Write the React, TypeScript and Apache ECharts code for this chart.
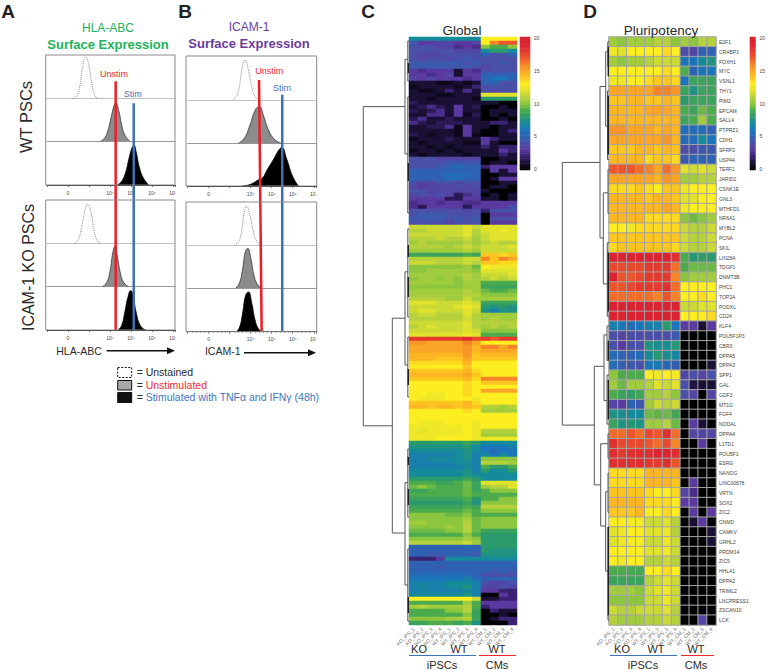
import React, { useEffect, useRef } from "react";
import * as echarts from "echarts";

const FONT = "Liberation Sans";
const sampleLabels = ["KO_iPS_1","KO_iPS_2","KO_iPS_3","KO_iPS_4","WT_iPS_1","WT_iPS_2","WT_iPS_3","WT_iPS_4","WT_CM_1","WT_CM_2","WT_CM_3","WT_CM_4"];
const colorScale = ["#000000","#1a1035","#3a2272","#5a3aa0","#4a50a8","#2f62b2","#1a75bb","#158a9a","#2a9a6c","#4cab4c","#8cc63f","#b5d23c","#e0e22c","#fcee21","#fdc51f","#faa526","#f58429","#ec552b","#e43a2e","#db2332","#d8202f"];
const colorbarLevels = Array.from({ length: 81 }, (_, i) => i / 4);

const pluripotencyGenes = ["E2F1","CRABP1","FOXH1","MYC","VSNL1","THY1","PIM2","EPCAM","SALL4","PTPRZ1","CDH1","SFRP2","USP44","TERF1","JARID2","CSNK1E","GNL3","MTHFD1","NR6A1","MYBL2","PCNA","SKIL","LIN28A","TDGF1","DNMT3B","PHC1","TOP2A","PODXL","CD24","KLF4","POU5F1P3","CBR3","DPPA5","DPPA3","SPP1","GAL","GDF3","MT1G","FGF4","NODAL","DPPA4","L1TD1","POU5F1","ESRG","NANOG","LINC00678","VRTN","SOX2","ZIC2","CNMD","CAMKV","GRHL2","PRDM14","ZIC5","HHLA1","DPPA2","TRIML2","LNCPRESS1","ZSCAN10","LCK"];
const pluripotencyValues = [
[10.5,10,10.5,10.5,10.5,11,11,10,10.5,10,11,11],
[12.5,12,13,13,13,13,13.5,13,4,3.5,5,5],
[10.5,10,10.5,10.5,11,11.5,11.5,11.5,6,6,7,7.5],
[13,13,13,13,13,13,13.5,13,9,5,6,6],
[12.5,12.5,13,13,13.5,14,14,13.5,6,8.5,8.5,8.5],
[15,15,15,15,15,16,16,15.5,8.5,7.5,8.5,8.5],
[14,14,14.5,14.5,14,14,14.5,14,8,8.5,8.5,8.5],
[14.5,14.5,14.5,14.5,15,15,15,14.5,9,8.5,9.5,9],
[14.5,14.5,14.5,14.5,14.5,14.5,14.5,14.5,8.5,9,10.5,9],
[15.5,15.5,15,15,15,14.5,15,14.5,5.5,5.5,5.5,5],
[15,15,15,15,15,15,15.5,14.5,5.5,5.5,7,6],
[14,14,14,14.5,14.5,14,14.5,14,4,4,4.5,4.5],
[14.5,14.5,14.5,14.5,13.5,14,14,13.5,4.5,5,5,5],
[17,17,17,16.5,16,15,16.5,15.5,12,11.5,12,11.5],
[15,15,15,15,15,14.5,15.5,15,10.5,10.5,11,11],
[13.5,13.5,13.5,14,13.5,13,14,14,12.5,13,13,13],
[14.5,14.5,14.5,14.5,14,14.5,14.5,14,12,12,13,13],
[14.5,14.5,14.5,14.5,14.5,14.5,15,14.5,12.5,13,13,13],
[14.5,14.5,14.5,14.5,13.5,13.5,13.5,13.5,10,9.5,10,10.5],
[13,13,12.5,13.5,13.5,13.5,13.5,13.5,11.5,11,11,11.5],
[14,14,14,14,14,14,14,14,11.5,11,11,11.5],
[13.5,14,14,14,14,14,14,13.5,11.5,11,11,11.5],
[19,19,19,19,19,19,19.5,18.5,9,7.8,8.2,8],
[17.5,17.5,17.5,17.5,18,18,18,16.5,9,9.5,9.5,9.5],
[19,17,17,17.5,18,18,18,16,10,10.5,10.5,10.5],
[17,17,17.5,18,18,18,18.5,16.5,13,13,13,13],
[16.5,16.5,16.5,16.5,16.5,16,17,16,13,13,13.5,13],
[19.5,19.5,19.5,19.5,19.5,19.5,19.5,19.5,11.5,11.5,12,12],
[19.5,19.5,19.5,19.5,19.5,19.5,19.5,19,13,13,13,13.5],
[6.5,6,5.5,6,6.5,6.5,8,6,3,3,1,3],
[4,3.5,3.8,3.8,4,4,4,4.5,0,0,0,0],
[4,3,4,4,7.5,7.2,7.2,7.8,0,0,0,0],
[5.5,5,5,5.5,7,7.8,7.2,6.8,0,0,0,0],
[5.5,4.8,4.5,4,6,6.2,5.2,4.8,0,0,0,1],
[10,9,9,9,13,12.5,13,12.8,3.5,4,3.5,4],
[10.5,9.5,10.5,10.5,11,12,11.5,12,4,1.2,1,1],
[9,8.5,8.2,8.7,10.5,10.5,11,10,4,3.5,0,3.5],
[3.5,3,5,4.5,10.5,11.5,11,11.5,0,0,0,0],
[7.5,7.2,7,7,9.5,9.3,9.5,8.7,0,0,0,0],
[8.5,7.5,7.8,7.5,10.5,10.5,11,9.5,0,3,1,0],
[16.5,16.5,17,16.5,17.5,17,18.5,16.5,0,3.5,3.5,3.5],
[18.5,17.5,17.5,17.5,17,16.5,17.5,16,0,0,3,0],
[18.5,18,18.5,18.5,18.5,19,19,18.5,0,0,0,0],
[18.5,18.5,18.5,18.5,18,18,18.5,17,0,0,0,0],
[13.5,13.5,13.5,13.5,14.5,14.5,14.5,14.5,0,0,0,0],
[13.5,13.5,13.5,13.5,14.5,14.5,14.5,14,0,3,0,0],
[14,14,14,14,13.5,13,13,13.5,3.5,2.5,0,0],
[14.5,14.5,14.5,14.5,13.5,13.5,13.5,13,3,3,0,0],
[14,14,14,14.5,13,13,13.5,13,0,3,0,3],
[13,13,12.8,12.8,11.5,11.5,12,11,0,1,3,0],
[12,12.5,13,13,12,12,12.5,11,0,0,0,1],
[12,12.5,12.8,12.8,11.5,11.5,12.5,11.5,0,0,0,1],
[13,13,13,13,12,12,12.5,11.5,0,0,0,0],
[13,12.5,13,13,11,11,11.5,11,0,0,0,0],
[9,9,8.8,8.8,13,13,13.5,13,0,0,0,0],
[8.5,8.5,8.5,8.5,11,11.5,12,11.5,0,0,0,0],
[10.5,10.5,10.5,10,11.5,12,12.5,11.5,0,0,0,0],
[10,10,10,10,11.5,11.5,12.5,11.5,0,0,0,0],
[11.5,11,11,11.5,11.5,11.5,12,11,0,0,0,0],
[11,10.5,10.5,10.5,11,11,11.5,11,0,0,3.5,0],
];

const globalLowRows = [
[7,7,7,7,7,7,7,7,13,13,13,13],[4.5,3,3,3.5,3.5,3,3,3.5,13,16,17,17],[4,4,4,3.5,3.5,2.5,3,2.5,10,9,9,10],[4,4,4,4,4,3.5,3.5,3.5,7,8,8,7],
[4,3.5,3.5,3.5,4,4,4,4,5,4,4,5],[4,3.5,4,4,3.5,4,4.5,4,4,4,4,4],[4.5,4.5,4.5,4.5,4.5,4.5,4,4.5,4,4,4.5,4],[4.5,4.5,4.5,4.5,4.5,4.5,4.5,4,3.5,4,4,4],
[3,2.5,3,3,3,1,3,2.5,4,4,4,4],[3,3,2.5,3,3.5,1,3,3,5,5,5,5],[3.5,3,3.5,3,3,3,2.5,3,5,6,6,5],
[1,1,1,0.5,0.5,1,0.5,1,5,5,4,4],[0.5,1,1,1,1,0.5,1,2,4,4,4,4],[1,0.5,0.5,1,2,1,2.5,1,4,3.5,4,4],[1,1,1,0.5,0.5,1,1,1,12,12,12,12],[1,1,0.5,1,1,1,1,0.5,8,8,8,8],
[1.5,1,1,1,1,1,1,1,1,1,0,0],[1,1.5,2.5,1.5,1,3,1,1.5,0,0,1,0],[1.5,1,1.5,2.5,1,3,1,1,0,1,1,1],[1,1,2.5,2.5,1,3,0.5,1.5,0,1,0,1],[1.5,2.5,1,1,1.5,1,1,1,0,0,1,0],
[2.5,1.5,1,1.5,1.5,1.5,1,1,1,2,2,1],[1,1,1.5,1.5,2.5,0.5,3,1,1,0,1,1],[1,1,1,1,1,0.5,3,1,0,0,1,2],[1.5,1,0.5,1,1,0.5,3,0.5,0,0,1,1],[0.5,1,1,1,1.5,1,1,1,3,2,1,1],
[1,0.5,1,1,1,1,0.5,0.5,3,1,0,0],[1,1,0.5,1,0.5,1,1,1,2,1,2,2],[0.5,1,1,0.5,1,0.5,1,1,1,1,3,2],[1,0.5,1,1,1,1,0.5,1,1,1,2,1],
[4,4,4,3.5,3.5,3.5,3.5,3.5,0,0,1,1],[4,4,4,4,4.5,4.5,4.5,4.5,0,1,1,0],[4,4,4,4.5,5,5.5,5,5,2,3,3,3],[5,5,5,5,5,5,5,5,0,3,1,3],[5,5,5,5,5.5,5.5,5.5,5,0,0,1,1],
[5,5,5,5,5.5,5.5,5,5,0,1,3,3],[4,3.5,3.5,4,4,3.5,4,4,0,0,1,1],[3.5,3,3.5,3.5,3.5,4,3.5,4,0,1,1,0],[4,4,3.5,3.5,3.5,3.5,3.5,3.5,1,0,0,0],[3.5,4,3.5,4,3.5,1.5,2.5,3.5,0,1,0,1],
[3,3,3,3,1.5,1.5,3,3,1,1,0,1],[2.5,3,3,2.5,3,3,2.5,2.5,3,3,3,3],[2.5,1.5,3,3,3,3,1.5,3,3,3,3,4],[4,4,4,4,4,4,3.5,4,2,4,4,4],[4,4.5,4.5,4.5,4,4,4,4,0,3,3,3],
[4.5,4.5,4.5,4.5,4,4.5,4,4.5,0,4,4,4],[4,4,4,4,3.5,4,4,4,0,3,3,3],
];
const globalGreenRows = [
[11.5,11.5,11.5,11.5,11.5,11.5,12,11.5,12,12,12,12],[11,11,11.5,11.5,11.5,11.5,12,11,12,12,12.5,12],[11.5,11.5,11.5,11.5,11.5,11.5,12,11,11.5,12,12,12],[11,11,11,11.5,11,11,11.5,10.5,11.5,12,12,12],
[10.5,11,10.5,10.5,10.5,10.5,11,10.5,11,11.5,11,11],[11,11,11,11,10.5,11,11.5,11,11.5,11.5,11.5,12],[10.5,10.5,10.5,10.5,10.5,10.5,11,10.5,11.5,11.5,11.5,11.5],[8.5,8.5,8.5,8.5,8.5,8.5,9,8.5,14,14,13.5,14],
[11,11,11,11,11,11,11.5,11.5,16,14,16,15],[11.5,11.5,11.5,11,11,11,11.5,11,14,14,13.5,13.5],[10,10,10,10,10,10,10.5,9.5,13,12.5,12.5,12.5],[10,10,10.5,10.5,10.5,10.5,10.5,10,12,12,12,12],
[10.5,10.5,10.5,10.5,10.5,10.5,11,10.5,11.5,11.5,11.5,12],[10,10.5,10.5,10,10.5,10,11,10.5,11,11.5,11,11.5],[10.5,10.5,10.5,10.5,10.5,10,10.5,10.5,9,9,9,9],[10,10,10,10,10,10,10.5,10.5,8.5,8.5,8.5,8.5],
[10.5,10.5,10.5,10.5,10.5,10.5,11,10.5,9.5,9,9,9.5],[10.5,10.5,10.5,10.5,10.5,10.5,11,11,10,10,10,10],[11,11,11,11,10.5,10.5,11.5,10.5,10.5,10.5,10.5,10.5],[12,12,12,11.5,11.5,11.5,12,11.5,8.5,8.5,8.5,8.5],
[11.5,11.5,11.5,11.5,11.5,12,12.5,12,8,7.5,8,7.5],[11.5,12,12,11.5,11.5,11.5,12,11.5,7.5,6.5,7.5,7.5],[11,11.5,11.5,11,11,11,12,11,10.5,10.5,10.5,10.5],[11,11,11,11,11,11,11.5,11,10.5,11,10.5,10.5],
[11.5,11.5,11.5,11.5,11.5,11.5,12,11,11,11,11,11],[11,11.5,12,11.5,11.5,11.5,12,11,10.5,11,10.5,11],[11.5,11.5,11.5,11.5,11.5,11.5,12,11.5,10,10,10,10],[12,12,12,12,12,12,12.5,12,9,9,9,9],
];
const globalHighRows = [
[18,18,18,18,18,18,18.5,17.5,18,17,18,18],[15.5,15.5,15,15,15,15,16,15,13,13,13,13],[15,15,15,15,15,15,15.5,14.5,16,16,15,16],[15,15,15,15,15,15,15.5,14.5,15,15,15,15],
[14.5,14.5,14.5,14.5,14.5,14.5,15.5,14,14.5,14.5,14.5,14.5],[14.5,14.5,14.5,14,14,14,15,14,14,14,14,14],[13.5,13.5,13.5,13.5,13.5,13.5,14.5,13,13,13,13,13],[13,13,13,13,13,13,14,13,13,13,13,13],
[14,14,14,14,14,14,14.5,13.5,13,13,13,13],[14.5,14.5,14.5,14.5,14.5,14.5,15,14,13,13,13,13],[14,14,14,14,14,14,14.5,13.5,16,16,16,16],[13,13,13,13,13,13,13.5,13,14,14,14,14],
[13,13,13,13,13,13,13.5,13,13,13,13,13],[13,13,13,13,13,13,13.5,13,15,15,15,15],[13,13,12.5,12.5,13,13,13.5,13,13,13,13,13],[13,12.5,12.5,12.5,13,13,13,12.5,13,13,13,13],
[14,14,14,14,14,14,14.5,13.5,13,13,13,13],[14.5,14.5,14,14.5,14.5,14,14.5,14,11,11,10.5,11],[13,13,13,13,13,13,13.5,13,10.5,10.5,10.5,10.5],[13,13,13,13,13,13,13,13,13,13,13,13],
[13,13,13,13,13,13,13,13,13,13,13,13],[13,12.5,12.5,12.5,13,13,13,12.5,13,13,13,13],[12.5,12.5,12.5,12.5,12.5,12.5,13,12.5,13,13,13,13],[12.5,12,12.5,12.5,12.5,12.5,13,12.5,11,11,11,11],
[12.5,12.5,12.5,12.5,12.5,12.5,13,12.5,10.5,10.5,10.5,10.5],[12.5,12.5,12.5,13,13,13,13,12.5,12.5,12.5,12.5,12.5],
];
const globalTealRows = [
[8,8,8,8,8,8,8.5,8,7,7,7,7],[7.5,7.5,7.5,7.5,7.5,7.5,8,7,6,6,6,6.5],[7,7,7,7,7,7,7.5,7,6,5.5,6,6],[6.5,6.5,6.5,6.5,6.5,7,7.5,6.5,7,6,7,6],
[6.5,6.5,7,7,7,7,7.5,6.5,10,10,10,10],[6.5,6.5,6.5,6.5,6.5,7,7,6.5,11,11,11,10.5],[6.5,6.5,6.5,6.5,6.5,6.5,7,6.5,9,8,8,9],[7,7,7,7,7,7,7.5,6.5,8,7,7,8],
[7,7,7,7,7,7,7.5,7,7,7,7,7],[8,8,8,8,8,8,8.5,8,7,7,7,7],[9,9,9,8.5,8.5,9,9.5,8.5,12,12,12,12],[9.5,10,9.5,9,9,9,9.5,8.5,10.5,11,11,12],
[8.5,8.5,9,9,9,9,9.5,8.5,9,10,10,10],[9,9,9,9,9,9,9.5,9,9,9,9,9],[8.5,8.5,8.5,8.5,8.5,8.5,9,8,9,9,10,10],[8,8,8,8,8,8,8.5,7.5,10,10,10,10],
[8.5,8.5,8.5,8.5,8.5,8.5,9,8.5,11,11,11,11],[9,9,9,9,9,9,9.5,9,10,10,10,10],[10,10,10,10,9.5,9.5,10,9,9,9,9,9],[10,10,10,10,10,10,10.5,9.5,10,10,10,10],
[10.5,10.5,10,10,10,10,11,9.5,10,10,10,10],[10,10,10,10,10.5,10,11,9.5,10,10,10,10],[9.5,9.5,9.5,9.5,10,10,11,9.5,8.5,8.5,8.5,8.5],[9,9,9,9,9,9,10,9,8,8,8,8],
[10,10,10,10,10,10,10.5,10,8,8,8,8],[11,11,11,11,11,11,11.5,10.5,8,8,8,8],
];
const globalBlueRows = [
[5,5,5,5,5,5,5.5,5,8,8,8,8],[5,5,5,5,5,5,5,5,8,7.5,7.5,7.5],[5,5,4.5,4.5,5,5,5,4.5,7.5,7.5,7.5,7.5],[2,2,2,3,7,7,7,7,7,7,7,7],
[5,5,5,5,5,5,5,5,5,5,5,5],[5,5,5,4.5,5,5,5,5,5,5,5,5],[5,5,5,5,5,5,5,5,5,4.5,5,4.5],[5.5,5.5,5.5,5.5,5.5,5.5,5.5,5,4,4,4,4],
[6,6,6,6,6,6,6.5,5.5,5,5,5,5],[6.5,6.5,6.5,6.5,7,7,7,6.5,4,3.5,3.5,4],[6.5,7,6.5,6.5,7,7,7.5,6.5,3.5,3.5,4,3.5],[6.5,6.5,6.5,6.5,6.5,6.5,7,6.5,3,3,2,2],
[7,7,7,7,7,7,7.5,6.5,0,0,3,2],[13,13,13,13,13,13,13,11.5,1,1,2,2],[9,9,9,9,9,9,10.5,9,3,3,3,3],[10.5,11,10.5,10.5,10.5,10.5,11,9,2,3,3,3],
[9,9,9,9,10,10,11,8.5,0,2,1,1],[9,9,9,9,9,9,10,8.5,0,0,1,0],[10,10,10,10,10.5,10.5,11,8.5,0,1,2,2],[8.5,8.5,9,9,9,8.5,9,7.5,0,0,0,2],
];
const globalValues = [...globalLowRows, ...globalGreenRows, ...globalHighRows, ...globalTealRows, ...globalBlueRows];

// Histograms: [log10 intensity (2 = "0"), relative count]
const hlaWtUnstained = [[2.2,0],[2.4,5],[2.55,25],[2.7,75],[2.84,95],[3,75],[3.15,30],[3.3,6],[3.45,0]];
const hlaWtUnstim = [[3.55,0],[3.75,8],[3.9,25],[4.05,55],[4.2,85],[4.27,90],[4.4,75],[4.55,40],[4.7,15],[4.95,0]];
const hlaWtStim = [[4.35,0],[4.55,8],[4.75,30],[4.9,60],[5.05,85],[5.14,91],[5.25,75],[5.4,40],[5.6,15],[5.85,0]];
const hlaKoUnstained = [[2.27,0],[2.45,5],[2.6,25],[2.78,70],[2.94,90],[3.1,70],[3.25,28],[3.4,5],[3.55,0]];
const hlaKoUnstim = [[3.65,0],[3.85,10],[4,35],[4.14,80],[4.24,93],[4.35,70],[4.5,30],[4.65,10],[4.88,0]];
const hlaKoStim = [[4.38,0],[4.55,10],[4.7,40],[4.85,75],[4.99,91],[5.1,80],[5.25,40],[5.45,10],[5.7,0]];
const icamWtUnstained = [[3.13,0],[3.3,6],[3.45,28],[3.6,75],[3.73,91],[3.88,70],[4.05,30],[4.2,8],[4.38,0]];
const icamWtUnstim = [[3.42,0],[3.7,12],[3.95,40],[4.2,75],[4.4,85],[4.6,65],[4.85,30],[5.15,8],[5.45,0]];
const icamWtStim = [[3.6,0],[4,4],[4.35,14],[4.55,18],[4.77,37],[5.07,61],[5.35,85],[5.48,90],[5.7,65],[6,22],[6.27,0]];
const icamKoUnstained = [[3.22,0],[3.4,6],[3.55,28],[3.7,78],[3.81,90],[3.95,72],[4.12,32],[4.3,8],[4.55,0]];
const icamKoUnstim = [[3.28,0],[3.45,10],[3.6,40],[3.75,85],[3.86,92],[4,70],[4.15,30],[4.32,8],[4.52,0]];
const icamKoStim = [[3.3,0],[3.45,8],[3.6,38],[3.75,82],[3.89,91],[4.05,65],[4.2,28],[4.35,8],[4.52,0]];

const hlaUnstimMarker = [[4.27,90.5],[4.27,0]];
const hlaStimMarker = [[5.13,82.5],[5.13,0]];
const icamUnstimMarker = [[4.395,91.3],[4.52,0]];
const icamStimMarker = [[5.5,85.9],[5.5,0]];

const axisTickNames: Record<number,string> = {2:"0",4:"10\u2074",5:"10\u2075",6:"10\u2076",7:"10\u2077"};

// Dendrograms: [merge height, row A, row B, height A, height B]
const globalTree = [
[45.7,17.4,97.2,4,16.7],[16.7,70.3,124,4,4],[4,5.6,29.25,1.2,1.2],[4,58.7,82,1.2,1.2],[4,111.4,137,1.2,1.2],
[1.2,1,11,0,0],[1.2,15,44,0,0],[1.2,48,70,0,0],[1.2,75,90,0,0],[1.2,103,120,0,0],[1.2,128,146,0,0],
];
const globalTreeLeaves = [[6.5,9],[31.5,36],[52,55],[60,65],[83,87],[105,107],[113,117],[140,144]];
const pluriTree = [
[46.7,12.8,39.6,9,14.7],[9,5.05,20.5,3.3,5.7],[3.3,1.5,9.1,1.2,1.5],[5.7,15.9,25.2,1,1.7],[1.2,0.5,3,0,0],[1.5,5.5,12.5,0,0],[1,13.5,18,0,0],[1.7,21,28.5,0,0],
[14.7,33.6,45.7,5,8.3],[5,30.4,37.1,2,2],[2,29.5,33,0,0],[2,34.5,39.5,0,0],[8.3,41.5,49.9,1,3.3],[1,40.5,43,0,0],[3.3,46.4,54.5,1,1],[1,44.5,48.5,0,0],[1,50,59.5,0,0],
];
const pluriTreeLeaves = [[1,4],[6,12],[22,28],[31,33],[35,39],[50,59]];

const uShape = (t: number[]) => ({ coords: [[t[3],t[1]],[t[0],t[1]],[t[0],t[2]],[t[4],t[2]]] });

function buildOption() {
  const grid: any[] = [], xAxis: any[] = [], yAxis: any[] = [], series: any[] = [];
  const heatIdx: number[] = [];
  const addGrid = (g: any, xa: any, ya: any) => {
    const i = grid.length;
    grid.push({ containLabel: false, ...g });
    xAxis.push({ gridIndex: i, ...xa });
    yAxis.push({ gridIndex: i, ...ya });
    return i;
  };
  const hiddenVal = (min: number, max: number, inverse = false) => ({ type: "value", show: false, min, max, inverse, splitLine: { show: false } });

  const histo = (left: number, width: number, max: number, top: number, h: number, data: any, kind: number) => {
    const axisLine = kind === 0
      ? { show: true, onZero: false, lineStyle: { color: "#aaa", width: 0.8, type: "dotted" } }
      : kind === 1
      ? { show: true, onZero: false, lineStyle: { color: "#999", width: 1 } }
      : { show: true, onZero: false, lineStyle: { color: "#222", width: 1 } };
    const i = addGrid({ left, top, width, height: h }, {
      type: "value", min: 1, max, interval: 1, axisLine,
      axisTick: { show: kind === 2, inside: false, length: 2, lineStyle: { color: "#222", width: 0.6 } },
      minorTick: { show: kind === 2, splitNumber: 5, length: 1, lineStyle: { color: "#222", width: 0.5 } },
      axisLabel: { show: kind === 2, fontSize: 5, color: "#444", margin: 5, fontFamily: FONT, showMinLabel: true, formatter: (v: number) => axisTickNames[v] ?? "" },
      splitLine: { show: false },
    }, hiddenVal(0, 100));
    series.push({
      type: "line", xAxisIndex: i, yAxisIndex: i, data, smooth: 0.5, showSymbol: false, silent: true, z: 3,
      lineStyle: kind === 0 ? { color: "#888", width: 1, type: "dotted" } : { color: kind === 1 ? "#333" : "#000", width: 0.8 },
      areaStyle: kind === 0 ? undefined : { color: kind === 1 ? "#8c8c8e" : "#000", opacity: 1 },
    });
  };
  const aL = 47, aW = 128.1, aM = 7.1, bL = 187.7, bW = 129, bM = 7.14;
  histo(aL, aW, aM, 55, 43.7, hlaWtUnstained, 0);
  histo(aL, aW, aM, 98.7, 42.6, hlaWtUnstim, 1);
  histo(aL, aW, aM, 141.3, 43.7, hlaWtStim, 2);
  histo(aL, aW, aM, 200, 43.3, hlaKoUnstained, 0);
  histo(aL, aW, aM, 243.3, 43.4, hlaKoUnstim, 1);
  histo(aL, aW, aM, 286.7, 43.3, hlaKoStim, 2);
  histo(bL, bW, bM, 56, 44, icamWtUnstained, 0);
  histo(bL, bW, bM, 100, 43.3, icamWtUnstim, 1);
  histo(bL, bW, bM, 143.3, 42.7, icamWtStim, 2);
  histo(bL, bW, bM, 202, 43, icamKoUnstained, 0);
  histo(bL, bW, bM, 245, 43, icamKoUnstim, 1);
  histo(bL, bW, bM, 288, 43.7, icamKoStim, 2);

  const overlay = (left: number, width: number, max: number, top: number, height: number, red: any, blue: any) => {
    const i = addGrid({ left, top, width, height }, hiddenVal(1, max), hiddenVal(0, 100));
    [[red, "#ee1c25"], [blue, "#3b6fb6"]].forEach(([d, c]) =>
      series.push({ type: "line", xAxisIndex: i, yAxisIndex: i, data: d, showSymbol: false, silent: true, z: 6, lineStyle: { color: c, width: 2.5 } }));
  };
  overlay(aL, aW, aM, 55, 275, hlaUnstimMarker, hlaStimMarker);
  overlay(bL, bW, bM, 56, 275.7, icamUnstimMarker, icamStimMarker);

  const heat = (left: number, width: number, rows: number[][], names: string[], border: boolean) => {
    const i = addGrid({ left, top: 37, width, height: 588 }, {
      type: "category", data: sampleLabels, position: "bottom",
      axisLine: { show: false }, axisTick: { show: false }, splitLine: { show: false },
      axisLabel: { interval: 0, rotate: 45, fontSize: 5, color: "#666", margin: 3, fontFamily: FONT },
    }, {
      type: "category", data: names, inverse: true, position: "right",
      axisLine: { show: false }, axisTick: { show: false }, splitLine: { show: false },
      axisLabel: { show: border, interval: 0, fontSize: 5, color: "#444", margin: 3, fontFamily: FONT },
    });
    heatIdx.push(series.length);
    const data: number[][] = [];
    rows.forEach((r, y) => r.forEach((v, x) => data.push([x, y, v])));
    series.push({ type: "heatmap", xAxisIndex: i, yAxisIndex: i, data, silent: true, progressive: 0,
      itemStyle: border ? { borderColor: "#a3a3a3", borderWidth: 1 } : { borderWidth: 0 } });
  };
  heat(409, 108, globalValues, globalValues.map((_, i) => String(i)), false);
  heat(609, 107, pluripotencyValues, pluripotencyGenes, true);

  const bar = (left: number) => {
    const i = addGrid({ left, top: 37, width: 10, height: 133 }, { type: "category", show: false, data: ["v"] }, {
      type: "category", data: colorbarLevels.map(String), position: "right",
      axisLine: { show: false }, axisTick: { show: false }, splitLine: { show: false },
      axisLabel: { fontSize: 5, color: "#444", margin: 4, fontFamily: FONT, interval: (_: number, v: string) => Number(v) % 5 === 0 },
    });
    heatIdx.push(series.length);
    series.push({ type: "heatmap", xAxisIndex: i, yAxisIndex: i, silent: true, progressive: 0,
      data: colorbarLevels.map((v, k) => [0, k, v]), itemStyle: { borderWidth: 0 } });
  };
  bar(520);
  bar(750);

  const tree = (left: number, width: number, rowsN: number, nodes: number[][], leaves: number[][]) => {
    const i = addGrid({ left, top: 37, width, height: 588 }, hiddenVal(0, width, true), hiddenVal(0, rowsN, true));
    series.push({ type: "lines", coordinateSystem: "cartesian2d", xAxisIndex: i, yAxisIndex: i, polyline: true, silent: true,
      data: nodes.map(uShape), lineStyle: { color: "#555", width: 1, opacity: 1 } });
    series.push({ type: "lines", coordinateSystem: "cartesian2d", xAxisIndex: i, yAxisIndex: i, polyline: true, silent: true,
      data: leaves.map((s) => ({ coords: [[0.7, s[0]], [0.7, s[1]]] })), lineStyle: { color: "#222", width: 1.4, opacity: 1 } });
  };
  tree(363.3, 45.7, globalValues.length, globalTree, globalTreeLeaves);
  tree(562.3, 46.7, pluripotencyValues.length, pluriTree, pluriTreeLeaves);

  const txt = (text: string, x: number, y: number, fontSize: number, fill: string, extra: any = {}, rotation = 0) => ({
    type: "text", x, y, rotation, z: 20, silent: true,
    style: { text, fontSize, fill, fontFamily: FONT, align: extra.align || "center", verticalAlign: "middle", fontWeight: extra.bold ? "bold" : "normal" },
  });
  const frame = (x: number, y: number, w: number, h: number) => ({ type: "rect", z: 8, silent: true, shape: { x, y, width: w, height: h }, style: { fill: "none", stroke: "#8a8a8a", lineWidth: 1 } });
  const segLine = (x1: number, y1: number, x2: number, y2: number, stroke: string, lineWidth: number) => ({ type: "line", z: 9, silent: true, shape: { x1, y1, x2, y2 }, style: { stroke, lineWidth } });
  const arrowHead = (x: number, y: number) => ({ type: "polygon", z: 9, silent: true, shape: { points: [[x - 8, y - 3.5], [x, y], [x - 8, y + 3.5]] }, style: { fill: "#111" } });
  const legendBox = (y: number, h: number, fill: string, dash?: number[]) => ({ type: "rect", z: 9, silent: true, shape: { x: 117.7, y, width: 14, height: h }, style: { fill, stroke: "#111", lineWidth: 1, lineDash: dash } });

  const GREEN = "#22b25a", PURPLE = "#6a3d9a", RED = "#ee2a2e", BLUE = "#3f74bb", DARK = "#2a2a2a";
  const graphic = [
    txt("A", 8, 11, 19, "#222", { bold: true }), txt("B", 185, 11, 19, "#222", { bold: true }),
    txt("C", 368, 11, 19, "#222", { bold: true }), txt("D", 590, 11, 19, "#222", { bold: true }),
    txt("HLA-ABC", 108, 28, 12, GREEN), txt("Surface Expression", 108, 44.5, 13, GREEN, { bold: true }),
    txt("ICAM-1", 249, 27, 12, PURPLE), txt("Surface Expression", 249, 43.5, 13, PURPLE, { bold: true }),
    txt("WT PSCs", 26, 117, 16.5, DARK, {}, Math.PI / 2), txt("ICAM-1 KO PSCs", 28, 267.5, 16, DARK, {}, Math.PI / 2),
    txt("Unstim", 114, 73.7, 9, RED), txt("Stim", 132.7, 94.3, 9, BLUE),
    txt("Unstim", 269.3, 71, 9, RED), txt("Stim", 282, 88.3, 9, BLUE),
    frame(45.7, 55, 129.3, 130), frame(45.7, 200, 129.3, 130), frame(186, 56, 130.7, 130), frame(186, 202, 130.7, 129.7),
    txt("HLA-ABC", 79, 350.7, 10.5, DARK), segLine(106.7, 350.7, 168, 350.7, "#111", 1.4), arrowHead(175, 350.7),
    txt("ICAM-1", 222.7, 350.7, 10.5, DARK), segLine(244, 352.7, 309, 352.7, "#111", 1.4), arrowHead(316, 352.7),
    legendBox(367.5, 10, "#fff", [2, 1.5]), legendBox(380.5, 9.5, "#a8a8a8"), legendBox(392.5, 10, "#111"),
    txt("=", 136.7, 372, 10.5, DARK, { align: "left" }), txt("Unstained", 145.7, 372, 10.5, DARK, { align: "left" }),
    txt("=", 136.7, 384.7, 10.5, DARK, { align: "left" }), txt("Unstimulated", 145.7, 384.7, 10.5, RED, { align: "left" }),
    txt("=", 136.7, 397.3, 10.5, DARK, { align: "left" }), txt("Stimulated with TNF\u03b1 and IFN\u03b3 (48h)", 145.7, 397.3, 10.5, BLUE, { align: "left" }),
    txt("Global", 462, 30, 13.5, DARK), txt("Pluripotency", 661, 30, 13.5, DARK),
    txt("KO", 419, 649, 11, DARK), txt("WT", 459, 649, 11, DARK), txt("WT", 497, 649, 11, DARK),
    segLine(409, 655.5, 476, 655.5, BLUE, 1.2), segLine(479, 655.5, 516, 655.5, RED, 1.2),
    txt("iPSCs", 442, 665, 11, DARK), txt("CMs", 497, 665, 11, DARK),
    txt("KO", 622, 649, 11, DARK), txt("WT", 656, 649, 11, DARK), txt("WT", 696, 649, 11, DARK),
    segLine(610, 655.5, 677, 655.5, BLUE, 1.2), segLine(681, 655.5, 714, 655.5, RED, 1.2),
    txt("iPSCs", 643, 665, 11, DARK), txt("CMs", 696, 665, 11, DARK),
  ];

  return {
    animation: false,
    backgroundColor: "#fff",
    textStyle: { fontFamily: FONT },
    visualMap: { show: false, type: "continuous", min: 0, max: 20, dimension: 2, seriesIndex: heatIdx, inRange: { color: colorScale } },
    grid, xAxis, yAxis, series, graphic,
  };
}

export default function App() {
  const ref = useRef<HTMLDivElement>(null);
  useEffect(() => {
    document.body.style.margin = "0";
    const chart = echarts.init(ref.current!, undefined, { renderer: "svg", width: 768, height: 670 });
    chart.setOption(buildOption() as any);
    return () => chart.dispose();
  }, []);
  return <div ref={ref} style={{ position: "absolute", left: 0, top: 0, width: 768, height: 670 }} />;
}
